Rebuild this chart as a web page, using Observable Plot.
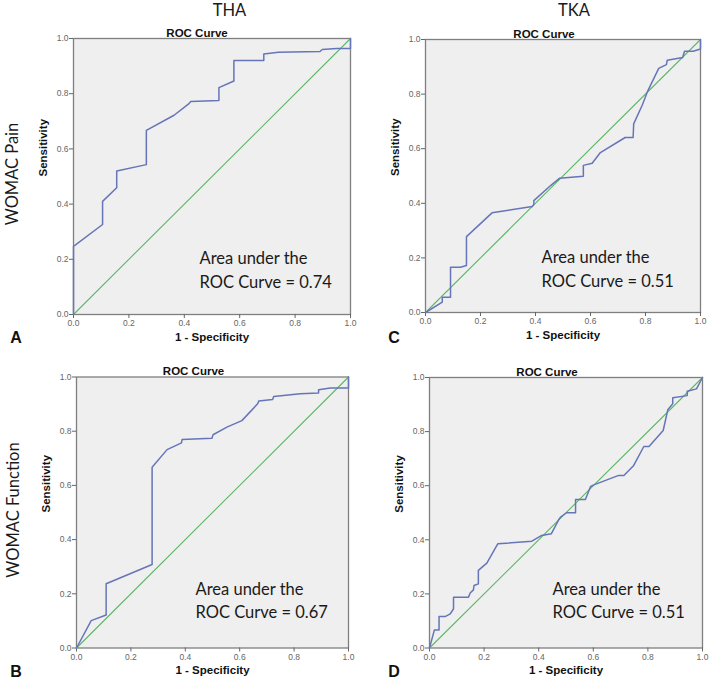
<!DOCTYPE html>
<html>
<head>
<meta charset="utf-8">
<script src="https://cdn.jsdelivr.net/npm/d3@7"></script>
<script src="https://cdn.jsdelivr.net/npm/@observablehq/plot@0.6"></script>
<style>
  html, body { margin: 0; padding: 0; background: #fff; }
  #root { position: relative; width: 709px; height: 683px; overflow: hidden; font-family: "Liberation Sans", Arial, sans-serif; }
  .panel { position: absolute; }
  .panel svg { overflow: visible; }
  .lbl { position: absolute; transform: translate(-50%, -50%); white-space: nowrap; line-height: 1; }
  .big { font-family: Lato, "Open Sans", sans-serif; font-size: 16.5px; color: #1a1a1a; }
  .rot { transform: translate(-50%, -50%) rotate(-90deg); }
  .letter { font-family: "Liberation Sans", Arial, sans-serif; font-weight: bold; font-size: 16px; color: #111; }
</style>
</head>
<body>
<div id="root"></div>
<script>
// ---- data ----
const columnTitles = ["THA", "TKA"];
const rowTitles = ["WOMAC Pain", "WOMAC Function"];
const panelLetters = ["A", "C", "B", "D"];
const chartTitle = "ROC Curve";
const xLabel = "1 - Specificity";
const yLabel = "Sensitivity";
const axisTicks = [0, 0.2, 0.4, 0.6, 0.8, 1.0];
const chanceLine = [0, 1];
const aucValues = ["0.74", "0.51", "0.67", "0.51"];

// A: THA, WOMAC Pain
const thaPainFpr = [0, 0, 0.105, 0.105, 0.156, 0.156, 0.263, 0.263, 0.363, 0.417, 0.423, 0.525, 0.525, 0.579, 0.579, 0.687, 0.687, 0.74, 0.89, 0.898, 0.95, 1.0, 1.0];
const thaPainTpr = [0, 0.247, 0.326, 0.41, 0.459, 0.52, 0.543, 0.667, 0.722, 0.764, 0.772, 0.775, 0.822, 0.846, 0.920, 0.920, 0.944, 0.950, 0.953, 0.960, 0.964, 0.964, 1.0];

// C: TKA, WOMAC Pain
const tkaPainFpr = [0, 0.061, 0.061, 0.091, 0.091, 0.127, 0.149, 0.149, 0.242, 0.388, 0.394, 0.394, 0.455, 0.488, 0.574, 0.574, 0.606, 0.636, 0.726, 0.755, 0.757, 0.788, 0.808, 0.848, 0.876, 0.879, 0.935, 0.942, 0.973, 1.0, 1.0];
const tkaPainTpr = [0, 0.038, 0.056, 0.056, 0.166, 0.166, 0.172, 0.278, 0.365, 0.388, 0.396, 0.41, 0.465, 0.492, 0.499, 0.539, 0.547, 0.586, 0.641, 0.641, 0.691, 0.759, 0.811, 0.894, 0.908, 0.924, 0.934, 0.957, 0.957, 0.965, 1.0];

// B: THA, WOMAC Function
const thaFuncFpr = [0, 0.054, 0.109, 0.109, 0.278, 0.278, 0.333, 0.386, 0.388, 0.498, 0.502, 0.553, 0.608, 0.666, 0.67, 0.721, 0.725, 0.823, 0.89, 0.89, 0.933, 1.0, 1.0];
const thaFuncTpr = [0, 0.101, 0.122, 0.237, 0.308, 0.667, 0.732, 0.757, 0.769, 0.774, 0.787, 0.815, 0.839, 0.901, 0.911, 0.917, 0.928, 0.938, 0.941, 0.953, 0.959, 0.959, 1.0];

// D: TKA, WOMAC Function
const tkaFuncFpr = [0, 0.018, 0.035, 0.035, 0.057, 0.076, 0.088, 0.088, 0.143, 0.149, 0.161, 0.163, 0.179, 0.179, 0.21, 0.25, 0.375, 0.411, 0.446, 0.473, 0.48, 0.502, 0.535, 0.535, 0.571, 0.59, 0.602, 0.693, 0.712, 0.748, 0.785, 0.804, 0.856, 0.873, 0.891, 0.891, 0.944, 0.944, 0.978, 1.0];
const tkaFuncTpr = [0, 0.067, 0.067, 0.116, 0.116, 0.126, 0.145, 0.188, 0.188, 0.203, 0.215, 0.231, 0.237, 0.287, 0.314, 0.385, 0.395, 0.416, 0.422, 0.474, 0.484, 0.5, 0.5, 0.549, 0.549, 0.597, 0.603, 0.638, 0.638, 0.675, 0.745, 0.745, 0.804, 0.881, 0.903, 0.925, 0.933, 0.949, 0.958, 1.0];

const curves = [
  {fpr: thaPainFpr, tpr: thaPainTpr, auc: aucValues[0]},
  {fpr: tkaPainFpr, tpr: tkaPainTpr, auc: aucValues[1]},
  {fpr: thaFuncFpr, tpr: thaFuncTpr, auc: aucValues[2]},
  {fpr: tkaFuncFpr, tpr: tkaFuncTpr, auc: aucValues[3]}
];

// ---- layout (positions and sizes only) ----
const layouts = [
  {left: 0,   top: 0,   w: 355, h: 345, ml: 73, mr: 5,  mt: 38, mb: 31,   adx: 126, ady: -27, tdx: -15},
  {left: 355, top: 0,   w: 354, h: 345, ml: 70, mr: 9,  mt: 39, mb: 33,   adx: 116, ady: -26, tdx: -19},
  {left: 0,   top: 345, w: 355, h: 338, ml: 76, mr: 7,  mt: 31.5, mb: 35.5, adx: 119, ady: -30, tdx: -19},
  {left: 355, top: 345, w: 354, h: 338, ml: 74, mr: 7,  mt: 32, mb: 35.5, adx: 123, ady: -30, tdx: -19}
];

const root = document.getElementById("root");
const fontArial = '"Liberation Sans", Arial, sans-serif';

curves.forEach((c, i) => {
  const L = layouts[i];
  const pts = c.fpr.map((x, k) => ({fpr: x, tpr: c.tpr[k]}));
  const chart = Plot.plot({
    width: L.w, height: L.h,
    marginLeft: L.ml, marginRight: L.mr, marginTop: L.mt, marginBottom: L.mb,
    style: {fontFamily: fontArial, background: "transparent", color: "#111"},
    x: {domain: [0, 1]},
    y: {domain: [0, 1]},
    marks: [
      Plot.frame({fill: "#efefef", stroke: "#7f7f7f", strokeWidth: 1.3}),
      Plot.axisX({ticks: axisTicks, tickFormat: d3.format(".1f"), tickSize: 4, tickPadding: 1.5, fontSize: 8.5, color: "#666", label: null}),
      Plot.axisY({ticks: axisTicks, tickFormat: d3.format(".1f"), tickSize: 4, tickPadding: 1, fontSize: 8.5, color: "#666", label: null}),
      Plot.line(chanceLine, {x: d => d, y: d => d, stroke: "#5cb865", strokeWidth: 1.1}),
      Plot.line(pts, {x: "fpr", y: "tpr", stroke: "#6675b8", strokeWidth: 1.5}),
      Plot.text([chartTitle], {frameAnchor: "top", dx: L.tdx, dy: -10, fontWeight: "bold", fontSize: 11.5, fill: "#111"}),
      Plot.text([xLabel], {frameAnchor: "bottom", dy: 26, fontWeight: "bold", fontSize: 11.5, fill: "#111"}),
      Plot.text([yLabel], {frameAnchor: "left", dx: -30, rotate: -90, fontWeight: "bold", fontSize: 11.5, fill: "#111"}),
      Plot.text([`Area under the\nROC Curve = ${c.auc}`], {
        frameAnchor: "bottom-left", dx: L.adx, dy: L.ady, textAnchor: "start", lineAnchor: "bottom",
        lineHeight: 1.41, fontFamily: "Lato, 'Open Sans', sans-serif", fontSize: 16.5, fill: "#1a1a1a"
      })
    ]
  });
  const div = document.createElement("div");
  div.className = "panel";
  div.style.left = L.left + "px";
  div.style.top = L.top + "px";
  div.appendChild(chart);
  root.appendChild(div);
});

function addLabel(text, cls, x, y) {
  const d = document.createElement("div");
  d.className = "lbl " + cls;
  d.style.left = x + "px";
  d.style.top = y + "px";
  d.textContent = text;
  root.appendChild(d);
}

addLabel(columnTitles[0], "big", 229.5, 10);
addLabel(columnTitles[1], "big", 574, 10);
addLabel(rowTitles[0], "big rot", 12, 174);
addLabel(rowTitles[1], "big rot", 12.5, 510);
const letterPos = [[16, 338], [394, 338], [16, 671.5], [394, 671.5]];
panelLetters.forEach((t, i) => addLabel(t, "letter", letterPos[i][0], letterPos[i][1]));
</script>
</body>
</html>
